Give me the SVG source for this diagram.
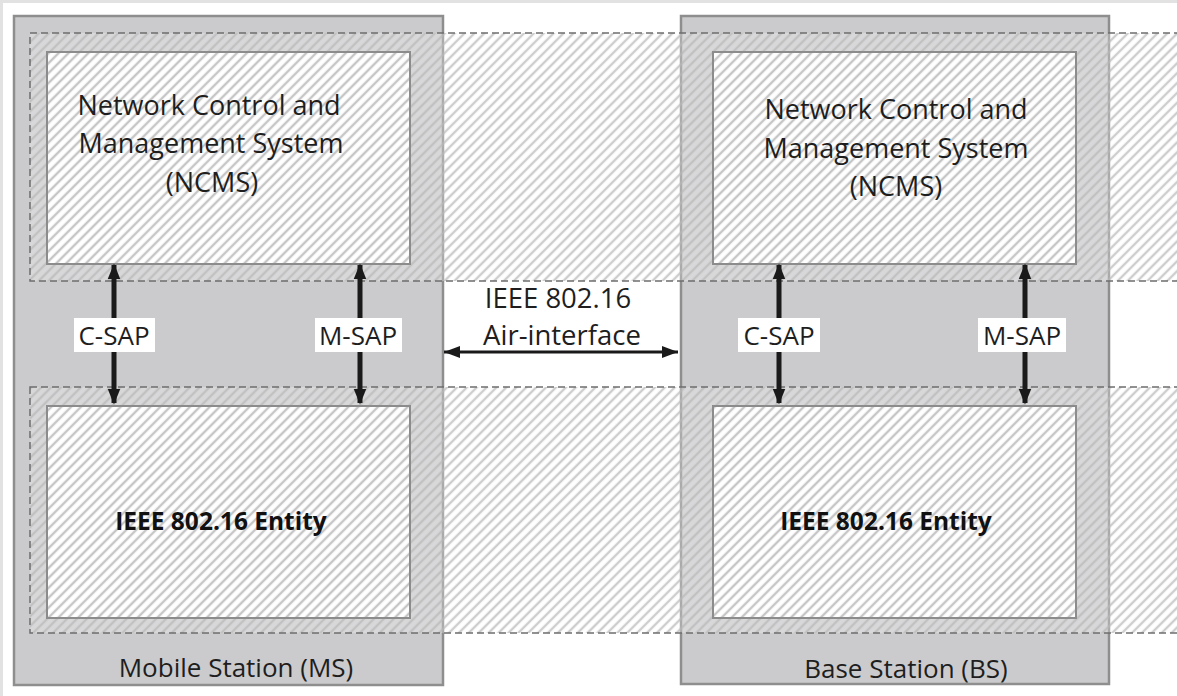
<svg xmlns="http://www.w3.org/2000/svg" width="1177" height="696" viewBox="0 0 1177 696">
  <defs>
    <!-- diagonal hatch for the inner entity boxes -->
    <pattern id="hatch" patternUnits="userSpaceOnUse" width="7" height="7" patternTransform="rotate(45)">
      <rect width="7" height="7" fill="#ffffff"/>
      <line x1="2" y1="0" x2="2" y2="7" stroke="#c6c6c6" stroke-width="2.4"/>
    </pattern>
    <!-- translucent hatch for the layer bands -->
    <pattern id="bandHatch" patternUnits="userSpaceOnUse" width="7" height="7" patternTransform="rotate(45)">
      <rect width="7" height="7" fill="#ffffff" fill-opacity="0.25"/>
      <line x1="2" y1="0" x2="2" y2="7" stroke="#b8b8b8" stroke-opacity="0.7" stroke-width="2.4"/>
    </pattern>
    <marker id="headV" markerUnits="userSpaceOnUse" markerWidth="16" markerHeight="20" refX="18" refY="8" orient="auto-start-reverse" viewBox="0 0 20 16">
      <path d="M0,0 L20,8 L0,16 Z" fill="#1a1a1a"/>
    </marker>
    <marker id="headH" markerUnits="userSpaceOnUse" markerWidth="16" markerHeight="12" refX="16" refY="6" orient="auto-start-reverse" viewBox="0 0 16 12">
      <path d="M0,0 L16,6 L0,12 Z" fill="#1a1a1a"/>
    </marker>
  </defs>
  <style>
    .station { fill: #cbcbcd; stroke: #8e8e8e; stroke-width: 2.5; }
    .band { fill: url(#bandHatch); stroke: #6e6e6e; stroke-width: 1.5; stroke-dasharray: 7 4; }
    .inner { fill: url(#hatch); stroke: #8c8c8c; stroke-width: 2; }
    .txt { font-family: "Open Sans", "Liberation Sans", sans-serif; font-size: 27px; fill: #1e1e1e; }
    .sapt { font-size: 26px; }
    .air-t { font-size: 27.5px; }
    .foot { font-size: 26px; }
    .bold { font-family: "Open Sans", "Liberation Sans", sans-serif; font-size: 24.5px; font-weight: 700; fill: #111111; }
    .tag { fill: #ffffff; }
    .sap { stroke: #1a1a1a; stroke-width: 5; fill: none; marker-start: url(#headV); marker-end: url(#headV); }
    .air { stroke: #1a1a1a; stroke-width: 3; fill: none; marker-start: url(#headH); marker-end: url(#headH); }
  </style>

  <rect x="0" y="0" width="1177" height="696" fill="#ffffff"/>
  <rect x="1.5" y="1.5" width="1180" height="700" fill="none" stroke="#e2e2e2" stroke-width="3"/>

  <!-- station enclosures -->
  <g id="ms-station">
    <rect class="station" x="14" y="16" width="429" height="669"/>
  </g>
  <g id="bs-station">
    <rect class="station" x="681" y="16" width="428" height="668"/>
  </g>

  <!-- management and data layers spanning both stations -->
  <g id="layer-bands">
    <rect class="band" x="30" y="33" width="1160" height="248"/>
    <rect class="band" x="30" y="387" width="1160" height="246"/>
  </g>

  <g id="ms-ncms">
    <rect class="inner" x="47" y="52" width="363" height="212"/>
    <text class="txt" x="209" y="115" text-anchor="middle">Network Control and</text>
    <text class="txt" x="211" y="153" text-anchor="middle">Management System</text>
    <text class="txt" x="212" y="192" text-anchor="middle">(NCMS)</text>
  </g>
  <g id="ms-entity">
    <rect class="inner" x="47" y="406" width="363" height="212"/>
    <text class="bold" x="221" y="530" text-anchor="middle">IEEE 802.16 Entity</text>
  </g>
  <g id="bs-ncms">
    <rect class="inner" x="713" y="52" width="363" height="212"/>
    <text class="txt" x="896" y="119" text-anchor="middle">Network Control and</text>
    <text class="txt" x="896" y="158" text-anchor="middle">Management System</text>
    <text class="txt" x="896" y="196" text-anchor="middle">(NCMS)</text>
  </g>
  <g id="bs-entity">
    <rect class="inner" x="713" y="406" width="363" height="212"/>
    <text class="bold" x="886" y="530" text-anchor="middle">IEEE 802.16 Entity</text>
  </g>

  <g id="station-labels">
    <text class="txt foot" x="236" y="677" text-anchor="middle">Mobile Station (MS)</text>
    <text class="txt foot" x="906" y="678" text-anchor="middle">Base Station (BS)</text>
  </g>

  <!-- service access points and air interface -->
  <g id="connectors">
    <path class="sap" d="M114,265 V403"/>
    <path class="sap" d="M360,265 V403"/>
    <path class="sap" d="M779,265 V403"/>
    <path class="sap" d="M1025,265 V403"/>
    <path class="air" d="M444,352 H678"/>

    <rect class="tag" x="74" y="318" width="81" height="34"/>
    <text class="txt sapt" x="114" y="345" text-anchor="middle">C-SAP</text>
    <rect class="tag" x="315" y="318" width="87" height="34"/>
    <text class="txt sapt" x="358" y="345" text-anchor="middle">M-SAP</text>
    <rect class="tag" x="738" y="318" width="82" height="34"/>
    <text class="txt sapt" x="779" y="345" text-anchor="middle">C-SAP</text>
    <rect class="tag" x="978" y="318" width="88" height="34"/>
    <text class="txt sapt" x="1022" y="345" text-anchor="middle">M-SAP</text>

    <text class="txt air-t" x="558" y="308" text-anchor="middle">IEEE 802.16</text>
    <text class="txt air-t" x="562" y="345" text-anchor="middle">Air-interface</text>
  </g>
</svg>
